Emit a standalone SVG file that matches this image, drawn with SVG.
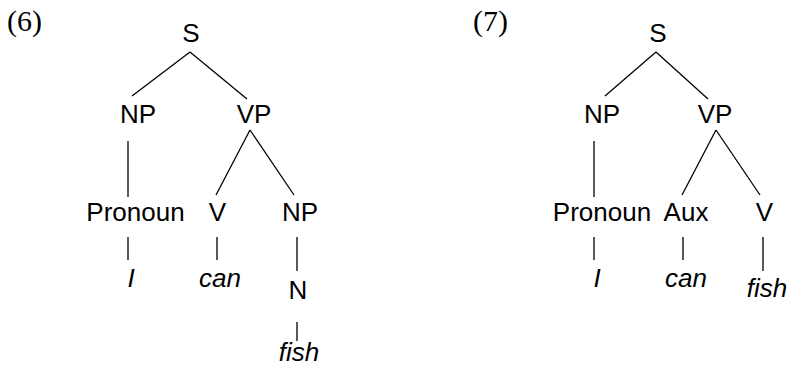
<svg xmlns="http://www.w3.org/2000/svg" width="790" height="367" viewBox="0 0 790 367">
<style>
.l{font-family:"Liberation Sans",Arial,sans-serif;font-size:26px;fill:#000;text-anchor:middle}
.w{font-family:"Liberation Sans",Arial,sans-serif;font-size:26px;font-style:italic;fill:#000;text-anchor:middle}
.n{font-family:"Liberation Serif","Times New Roman",serif;font-size:30px;fill:#000}
#edges line{stroke:#000;stroke-width:1.3}
</style>
<rect width="790" height="367" fill="#fff"/>
<text class="n" x="7" y="31">(6)</text>
<text class="n" x="473" y="31">(7)</text>
<g id="edges">
<line x1="190" y1="52" x2="132" y2="96"/>
<line x1="190" y1="52" x2="247" y2="99"/>
<line x1="128" y1="141" x2="128" y2="197"/>
<line x1="250" y1="130" x2="216" y2="195"/>
<line x1="250" y1="130" x2="294" y2="195"/>
<line x1="128" y1="237" x2="128" y2="260"/>
<line x1="217" y1="237" x2="217" y2="260"/>
<line x1="297" y1="237" x2="297" y2="271"/>
<line x1="297" y1="322" x2="297" y2="341"/>
<line x1="656" y1="52" x2="605" y2="96"/>
<line x1="656" y1="52" x2="708" y2="99"/>
<line x1="594" y1="141" x2="594" y2="197"/>
<line x1="716" y1="130" x2="682" y2="195"/>
<line x1="716" y1="130" x2="760" y2="195"/>
<line x1="594" y1="237" x2="594" y2="260"/>
<line x1="683" y1="237" x2="683" y2="260"/>
<line x1="763" y1="237" x2="763" y2="271"/>
</g>
<g id="t6-S"><text class="l" x="191" y="42">S</text></g>
<g id="t6-NP"><text class="l" x="138" y="123">NP</text></g>
<g id="t6-VP"><text class="l" x="254" y="123">VP</text></g>
<g id="t6-Pronoun"><text class="l" x="135.5" y="221">Pronoun</text></g>
<g id="t6-V"><text class="l" x="217.5" y="221">V</text></g>
<g id="t6-NP2"><text class="l" x="300" y="221">NP</text></g>
<g id="t6-I"><text class="w" x="131" y="287">I</text></g>
<g id="t6-can"><text class="w" x="220" y="287">can</text></g>
<g id="t6-N"><text class="l" x="298" y="299">N</text></g>
<g id="t6-fish"><text class="w" x="299" y="361">fish</text></g>
<g id="t7-S"><text class="l" x="658" y="42">S</text></g>
<g id="t7-NP"><text class="l" x="602" y="123">NP</text></g>
<g id="t7-VP"><text class="l" x="715" y="123">VP</text></g>
<g id="t7-Pronoun"><text class="l" x="602" y="221">Pronoun</text></g>
<g id="t7-Aux"><text class="l" x="686" y="221">Aux</text></g>
<g id="t7-V"><text class="l" x="764.5" y="221">V</text></g>
<g id="t7-I"><text class="w" x="597" y="287">I</text></g>
<g id="t7-can"><text class="w" x="686" y="287">can</text></g>
<g id="t7-fish"><text class="w" x="767" y="297">fish</text></g>
</svg>
